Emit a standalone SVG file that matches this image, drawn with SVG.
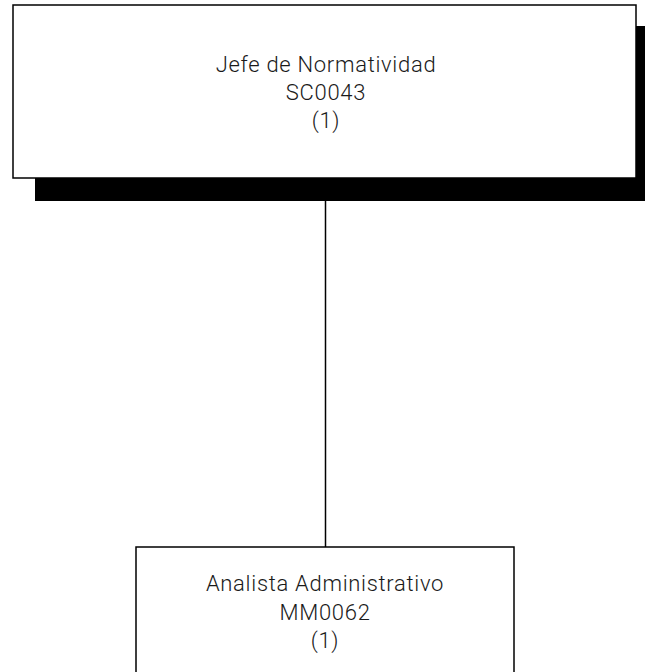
<svg xmlns="http://www.w3.org/2000/svg" width="645" height="672" viewBox="0 0 645 672">
  <style>
    .box { fill: #ffffff; stroke: #000000; stroke-width: 1.5; }
    .shadow { fill: #000000; }
    .label { font-family: Roboto, "Liberation Sans", sans-serif; font-weight: 300; font-size: 22px; letter-spacing: 0.7px; fill: #1a1a1a; text-anchor: middle; }
    .link { stroke: #000000; stroke-width: 1.5; fill: none; }
  </style>
  <rect width="645" height="672" fill="#ffffff"/>
  <g id="connectors">
    <line class="link" x1="325.5" y1="200" x2="325.5" y2="547"/>
  </g>
  <g id="jefe-normatividad">
    <rect class="shadow" x="35" y="26" width="630" height="175"/>
    <rect class="box" x="13" y="5" width="623" height="173"/>
    <text class="label" x="326" y="72">Jefe de Normatividad</text>
    <text class="label" x="326" y="100">SC0043</text>
    <text class="label" x="326" y="128">(1)</text>
  </g>
  <g id="analista-administrativo">
    <rect class="box" x="136" y="547" width="378" height="140"/>
    <text class="label" x="325" y="591">Analista Administrativo</text>
    <text class="label" x="325" y="620">MM0062</text>
    <text class="label" x="325" y="648">(1)</text>
  </g>
</svg>
